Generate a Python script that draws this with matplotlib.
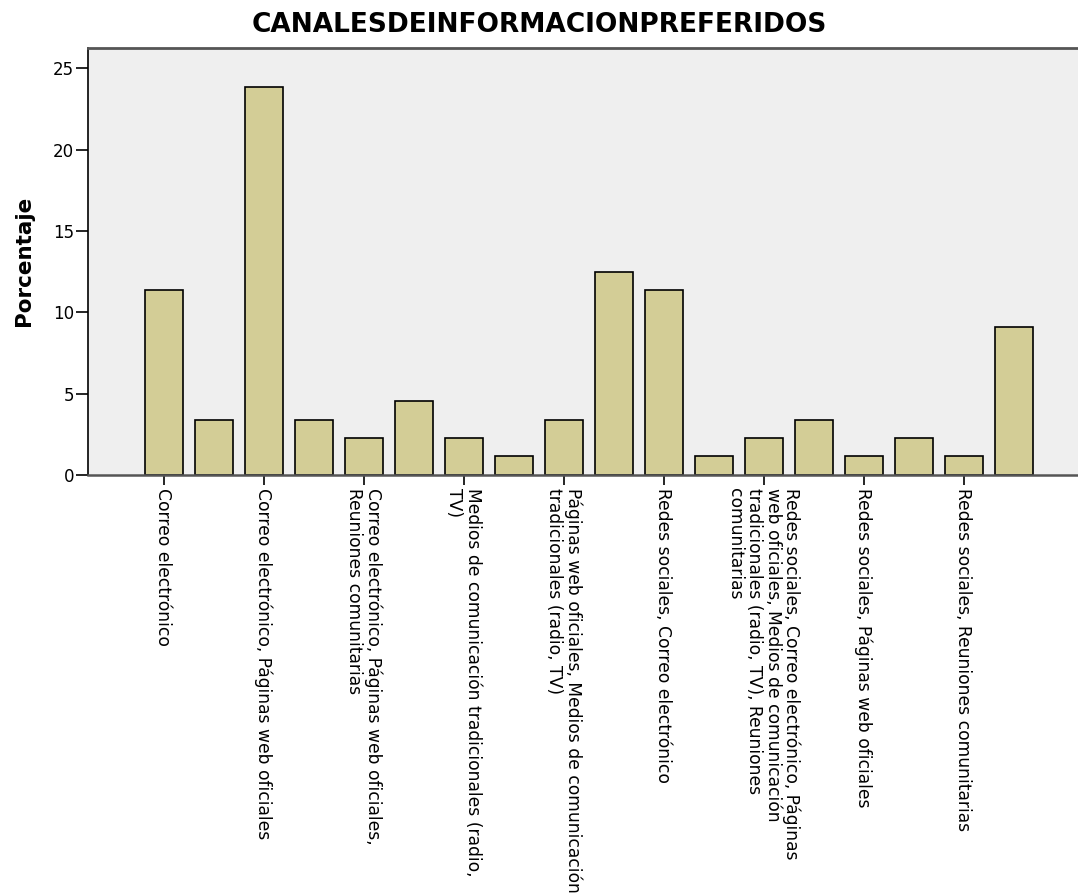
import matplotlib
matplotlib.use("Agg")
import matplotlib.pyplot as plt
import numpy as np

plt.rcParams['font.family'] = ['DejaVu Sans']

title = "CANALESDEINFORMACIONPREFERIDOS"
y_label = "Porcentaje"

categories = [
    "Correo electrónico",
    "Correo electrónico, Medios de comunicación tradicionales (radio, TV)",
    "Correo electrónico, Páginas web oficiales",
    "Correo electrónico, Páginas web oficiales, Medios de comunicación tradicionales (radio, TV)",
    "Correo electrónico, Páginas web oficiales,\nReuniones comunitarias",
    "Correo electrónico, Reuniones comunitarias",
    "Medios de comunicación tradicionales (radio,\nTV)",
    "Páginas web oficiales",
    "Páginas web oficiales, Medios de comunicación\ntradicionales (radio, TV)",
    "Redes sociales",
    "Redes sociales, Correo electrónico",
    "Redes sociales, Correo electrónico, Páginas web oficiales",
    "Redes sociales, Correo electrónico, Páginas\nweb oficiales, Medios de comunicación\ntradicionales (radio, TV), Reuniones\ncomunitarias",
    "Redes sociales, Medios de comunicación tradicionales (radio, TV)",
    "Redes sociales, Páginas web oficiales",
    "Redes sociales, Páginas web oficiales, Medios de comunicación tradicionales (radio, TV)",
    "Redes sociales, Reuniones comunitarias",
    "Reuniones comunitarias",
]

percentages = [11.36, 3.41, 23.86, 3.41, 2.27, 4.55, 2.27, 1.14, 3.41,
               12.50, 11.36, 1.14, 2.27, 3.41, 1.14, 2.27, 1.14, 9.09]

y_ticks = [0, 5, 10, 15, 20, 25]

W, H = 1078, 894
fig = plt.figure(figsize=(W / 100, H / 100), dpi=100)
fig.patch.set_facecolor('white')

left, top, bottom = 88, 48, 475
ax = fig.add_axes([left / W, 1 - bottom / H, 1 - left / W, (bottom - top) / H])
ax.set_facecolor('#efefef')

x = np.arange(len(categories))
ax.bar(x, percentages, width=0.76, color='#d3cd96', edgecolor='black',
       linewidth=1.2, zorder=3)

ax.set_xlim(-1.51, 18.29)
ax.set_ylim(0, 26.25)

ax.set_yticks(y_ticks)
ax.set_yticklabels([str(t) for t in y_ticks], fontsize=12)
ax.tick_params(axis='y', length=9, width=1.2, color='black', pad=1)

shown = x[::2]
ax.set_xticks(shown)
ax.set_xticklabels([categories[i] for i in shown], rotation=270, ha='center',
                   va='top', multialignment='left', linespacing=1.05,
                   fontsize=12.3)
ax.tick_params(axis='x', length=7, width=1.2, color='black', pad=2)

ax.spines['right'].set_visible(False)
ax.spines['left'].set_color('black')
ax.spines['left'].set_linewidth(1.2)
ax.spines['top'].set_color('#555555')
ax.spines['top'].set_linewidth(2)
ax.spines['bottom'].set_color('#555555')
ax.spines['bottom'].set_linewidth(1.8)
ax.spines['bottom'].set_zorder(4)

fig.text(0.5, 1 - 25 / H, title, ha='center', va='center',
         fontsize=19, fontweight='bold')
fig.text(24 / W, 1 - 261 / H, y_label, rotation=90, ha='center', va='center',
         fontsize=15.5, fontweight='bold')

fig.savefig("out.png", dpi=100)
